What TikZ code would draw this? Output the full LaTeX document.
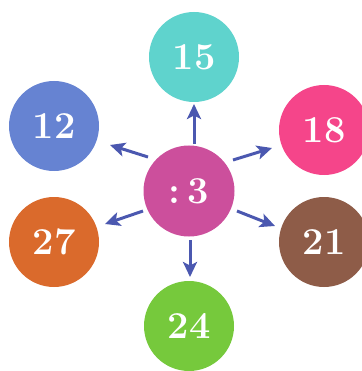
\documentclass[tikz,border=0pt]{standalone}
\usetikzlibrary{arrows.meta}
\definecolor{cteal}{HTML}{5FD3CD}
\definecolor{cblue}{HTML}{6683D2}
\definecolor{cpink}{HTML}{F5458A}
\definecolor{cmag}{HTML}{CC4F9C}
\definecolor{corange}{HTML}{DA6A2C}
\definecolor{cbrown}{HTML}{8E5C48}
\definecolor{cgreen}{HTML}{76C93C}
\definecolor{carrow}{HTML}{4B58B0}
\begin{document}
\begin{tikzpicture}[x=1pt,y=-1pt,
  ball/.style={circle,minimum size=90pt,inner sep=0pt,text=white,
    font=\fontsize{38}{38}\selectfont\bfseries},
  arr/.style={carrow,line width=3pt,-{Stealth[length=15pt,width=14pt,inset=3.5pt]}}]
\useasboundingbox (0,0) rectangle (361,371);
\node[ball,fill=cteal] (t15) at (194,57) {15};
\node[ball,fill=cblue] (t12) at (54,126) {12};
\node[ball,fill=cpink] (t18) at (324,130) {18};
\node[ball,fill=cmag,minimum size=91pt] (c) at (189,191) {:\hspace{7pt}3};
\node[ball,fill=corange] (t27) at (54,242) {27};
\node[ball,fill=cbrown] (t21) at (324,242) {21};
\node[ball,fill=cgreen] (t24) at (189,326) {24};
\coordinate (s15) at (194,144); \coordinate (e15) at (194,104);
\coordinate (s12) at (148,157); \coordinate (e12) at (110,145);
\coordinate (s18) at (233,160); \coordinate (e18) at (272,148);
\coordinate (s27) at (143,211); \coordinate (e27) at (105,224);
\coordinate (s21) at (237,211); \coordinate (e21) at (275,226);
\coordinate (s24) at (190,240); \coordinate (e24) at (190,277);
\draw[arr] (s15) -- (e15);
\draw[arr] (s12) -- (e12);
\draw[arr] (s18) -- (e18);
\draw[arr] (s27) -- (e27);
\draw[arr] (s21) -- (e21);
\draw[arr] (s24) -- (e24);
\end{tikzpicture}
\end{document}
